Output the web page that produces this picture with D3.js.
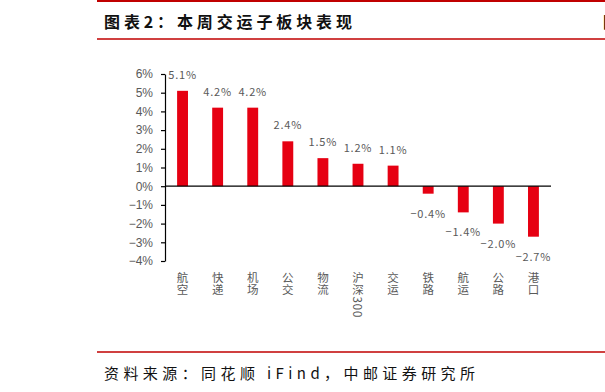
<!DOCTYPE html>
<html>
<head>
<meta charset="utf-8">
<script src="https://d3js.org/d3.v7.min.js"></script>
<style>
body { margin: 0; background: #fff; }
svg { display: block; }
.tick text { font-family: "Liberation Sans", Arial, sans-serif; font-size: 12px; fill: #595959; }
</style>
</head>
<body>
<svg id="chart" width="605" height="392"></svg>
<script>
// data
var categories = ['航空', '快递', '机场', '公交', '物流', '沪深300', '交运', '铁路', '航运', '公路', '港口'];
var values = [5.1, 4.2, 4.2, 2.4, 1.5, 1.2, 1.1, -0.4, -1.4, -2.0, -2.7];
var yTicks = [-4, -3, -2, -1, 0, 1, 2, 3, 4, 5, 6];
var title = '图表2：本周交运子板块表现';
var source = '资料来源：同花顺 iFind，中邮证券研究所';

var svg = d3.select('#chart');
var cjk = '"Noto Sans CJK SC", "Noto Sans", sans-serif';
var red = '#c00000';
var barColor = '#e60012';
var grey = '#595959';

// header / footer rules
svg.append('line').attr('x1', 97).attr('x2', 605).attr('y1', 1).attr('y2', 1)
  .attr('stroke', red).attr('stroke-width', 2);
svg.append('line').attr('x1', 97).attr('x2', 605).attr('y1', 39).attr('y2', 39)
  .attr('stroke', red).attr('stroke-width', 1.5);
svg.append('line').attr('x1', 97).attr('x2', 605).attr('y1', 352).attr('y2', 352)
  .attr('stroke', red).attr('stroke-width', 1.5);

svg.append('text')
  .attr('x', 104).attr('y', 21)
  .attr('dominant-baseline', 'central')
  .attr('textLength', 248).attr('lengthAdjust', 'spacing')
  .style('font-family', cjk).style('font-size', '16px').style('font-weight', 'bold')
  .attr('fill', '#111')
  .text(title);

// cut-off glyph at right edge (as in the reference)
svg.append('text')
  .attr('x', 603).attr('y', 21)
  .attr('dominant-baseline', 'central')
  .style('font-family', cjk).style('font-size', '16px').style('font-weight', 'bold')
  .attr('fill', '#111')
  .text('图');

svg.append('text')
  .attr('x', 104).attr('y', 372)
  .attr('dominant-baseline', 'central')
  .attr('textLength', 371).attr('lengthAdjust', 'spacing')
  .style('font-family', cjk).style('font-size', '15px')
  .attr('fill', '#111')
  .text(source);

// scales
var x = d3.scaleBand()
  .domain(categories)
  .range([165, 551])
  .paddingInner(0.69)
  .paddingOuter(0.345);

var y = d3.scaleLinear()
  .domain([-4, 6])
  .range([261, 74]);

var fmt = d3.format('d');

// y axis
var yAxis = svg.append('g')
  .attr('transform', 'translate(165,0)')
  .call(d3.axisLeft(y).tickValues(yTicks).tickSize(4).tickSizeOuter(0).tickPadding(8)
    .tickFormat(function(d) { return fmt(d) + '%'; }));
yAxis.select('.domain').attr('stroke', '#000').attr('stroke-width', 1.2);
yAxis.selectAll('.tick line').attr('stroke', '#000').attr('stroke-width', 1.2);

// bars
svg.append('g')
  .selectAll('rect')
  .data(values)
  .enter()
  .append('rect')
  .attr('x', function(d, i) { return x(categories[i]); })
  .attr('width', x.bandwidth())
  .attr('y', function(d) { return y(Math.max(0, d)); })
  .attr('height', function(d) { return Math.abs(y(d) - y(0)); })
  .attr('fill', barColor);

// zero line
svg.append('line')
  .attr('x1', 165).attr('x2', 551)
  .attr('y1', y(0)).attr('y2', y(0))
  .attr('stroke', '#000').attr('stroke-width', 1.2);

// value labels
svg.append('g')
  .selectAll('text')
  .data(values)
  .enter()
  .append('text')
  .attr('x', function(d, i) { return x(categories[i]) + x.bandwidth() / 2; })
  .attr('y', function(d) { return d >= 0 ? y(d) - 17 : y(d) + 19; })
  .attr('text-anchor', 'middle')
  .attr('dominant-baseline', 'central')
  .style('font-family', cjk).style('font-size', '11px').style('letter-spacing', '0.8px')
  .attr('fill', grey)
  .text(function(d) { return d3.format('.1f')(d) + '%'; });

// vertical category labels (digits turn sideways in vertical writing)
svg.append('g')
  .selectAll('text')
  .data(categories)
  .enter()
  .append('text')
  .attr('x', function(d) { return x(d) + x.bandwidth() / 2; })
  .attr('y', 272)
  .style('writing-mode', 'vertical-rl')
  .style('text-orientation', 'mixed')
  .style('font-family', cjk).style('font-size', '11.5px')
  .style('letter-spacing', '0.8px')
  .attr('fill', grey)
  .text(function(d) { return d; });
</script>
</body>
</html>
